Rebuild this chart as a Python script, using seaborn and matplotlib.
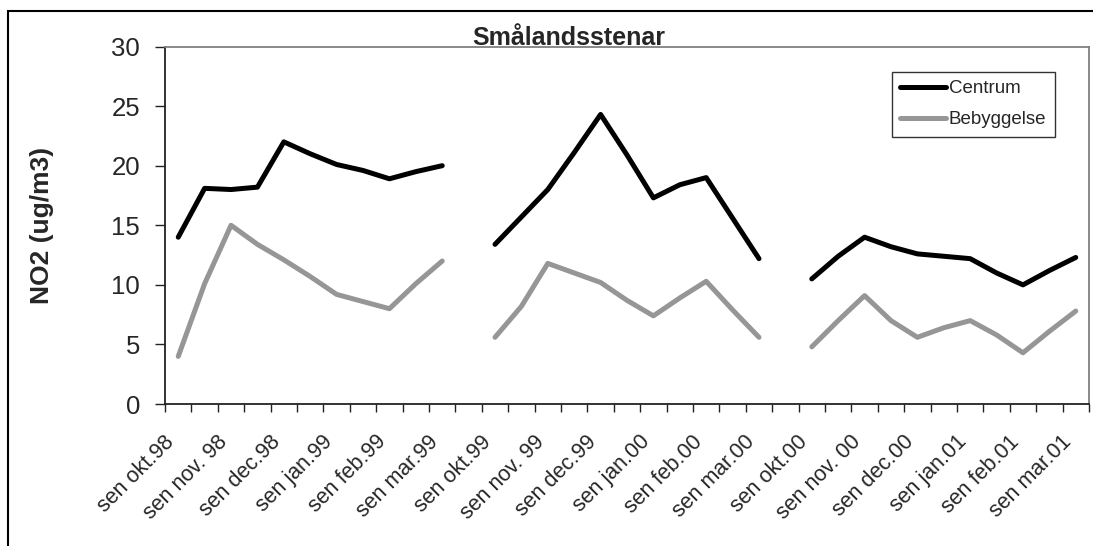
"""
plot.py -- NO2 winter measurements at Smålandsstenar, centre vs. residential area.

Run:
    python plot.py
"""

import matplotlib
matplotlib.use("Agg")
import matplotlib.pyplot as plt
import pandas as pd
import seaborn as sns
from matplotlib.patches import Rectangle
from matplotlib.ticker import FixedLocator, NullFormatter
from matplotlib.transforms import ScaledTranslation

# -- Data ----------------------------------------------------------------------

TITLE   = "Smålandsstenar"
Y_LABEL = "NO2 (ug/m3)"

# Half-month slots; every second slot carries a label, one empty slot between winters
TICK_LABELS = [
    "sen okt.98", "sen nov. 98", "sen dec.98", "sen jan.99", "sen feb.99", "sen mar.99",
    "sen okt.99", "sen nov. 99", "sen dec.99", "sen jan.00", "sen feb.00", "sen mar.00",
    "sen okt.00", "sen nov. 00", "sen dec.00", "sen jan.01", "sen feb.01", "sen mar.01",
]
N_SLOTS       = 35
SEASON_START  = [0, 12, 24]

SERIES = ["Centrum", "Bebyggelse"]

CENTRUM_98_99 = [14.0, 18.1, 18.0, 18.2, 22.0, 21.0, 20.1, 19.6, 18.9, 19.5, 20.0]
CENTRUM_99_00 = [13.4, 15.7, 18.0, 21.1, 24.3, 20.9, 17.3, 18.4, 19.0, 15.6, 12.2]
CENTRUM_00_01 = [10.5, 12.4, 14.0, 13.2, 12.6, 12.4, 12.2, 11.0, 10.0, 11.2, 12.3]

BEBYGG_98_99  = [4.0, 10.1, 15.0, 13.4, 12.1, 10.7, 9.2, 8.6, 8.0, 10.1, 12.0]
BEBYGG_99_00  = [5.6, 8.2, 11.8, 11.0, 10.2, 8.7, 7.4, 8.9, 10.3, 7.9, 5.6]
BEBYGG_00_01  = [4.8, 7.0, 9.1, 7.0, 5.6, 6.4, 7.0, 5.8, 4.3, 6.1, 7.8]

COLORS = {"Centrum": "#000000", "Bebyggelse": "#969696"}


def build_frame() -> pd.DataFrame:
    """Long-form table: one row per half-month reading."""
    seasons = {
        "Centrum":    [CENTRUM_98_99, CENTRUM_99_00, CENTRUM_00_01],
        "Bebyggelse": [BEBYGG_98_99, BEBYGG_99_00, BEBYGG_00_01],
    }
    rows = []
    for site in SERIES:
        for s, (start, vals) in enumerate(zip(SEASON_START, seasons[site])):
            for i, v in enumerate(vals):
                rows.append({"slot": start + i, "no2": v, "site": site, "season": s})
    return pd.DataFrame(rows)


# -- Plot ----------------------------------------------------------------------

def main() -> None:
    sns.set_theme(style="white")
    plt.rcParams["font.family"] = ["Liberation Sans", "DejaVu Sans"]

    df = build_frame()

    fig = plt.figure(figsize=(10.93, 5.46), dpi=100)
    ax = fig.add_axes([0.151, 0.260, 0.8453, 0.6548])

    sns.lineplot(
        data=df, x="slot", y="no2", hue="site", units="season", estimator=None,
        hue_order=SERIES, palette=COLORS, linewidth=3.6, ax=ax,
    )

    ax.set_xlim(-0.5, N_SLOTS - 0.5)
    ax.set_ylim(0, 30)
    ax.set_yticks(range(0, 31, 5))
    ax.tick_params(axis="y", labelsize=18.5, length=7, width=1, color="#222222",
                   pad=11, left=True, direction="out")

    # ticks sit on slot boundaries, labels on every second slot centre
    ax.xaxis.set_major_locator(FixedLocator([k - 0.5 for k in range(N_SLOTS + 1)]))
    ax.xaxis.set_major_formatter(NullFormatter())
    ax.set_xticks(range(0, N_SLOTS, 2), minor=True)
    ax.set_xticklabels(TICK_LABELS, minor=True, rotation=45, ha="right",
                       va="center", rotation_mode="anchor", fontsize=15.5)
    ax.tick_params(axis="x", which="major", length=6, width=1, color="#222222",
                   bottom=True, direction="out")
    ax.tick_params(axis="x", which="minor", length=0, pad=25, bottom=True)
    shift = ScaledTranslation(-7 / 100, 0, fig.dpi_scale_trans)
    for lab in ax.get_xticklabels(minor=True):
        lab.set_transform(lab.get_transform() + shift)

    ax.set_xlabel("")
    ax.set_ylabel(Y_LABEL, fontsize=19, fontweight="bold", va="center")
    ax.yaxis.set_label_coords(-0.133, 0.5)

    for side in ("left", "bottom"):
        ax.spines[side].set_color("#222222")
        ax.spines[side].set_linewidth(1.3)
    for side in ("top", "right"):
        ax.spines[side].set_color("#808080")
        ax.spines[side].set_linewidth(1.3)

    handles, labels = ax.get_legend_handles_labels()
    for h in handles:
        h.set_linewidth(3.6)
    leg = ax.legend(
        handles, labels, loc="upper left", bbox_to_anchor=(0.8158, 0.8687),
        bbox_transform=fig.transFigure, fontsize=13.5, frameon=True, fancybox=False,
        handlelength=2.45, handletextpad=0.15, labelspacing=0.75, borderpad=0.45,
        borderaxespad=0,
    )
    leg.get_frame().set_edgecolor("black")
    leg.get_frame().set_linewidth(1.0)

    fig.text(0.52, 0.930, TITLE, ha="center", va="center",
             fontsize=18, fontweight="bold")

    # chart-area border, cut off at right and bottom like the source
    fig.add_artist(Rectangle((8 / 1093, -0.1), 1.2, 1.0799, transform=fig.transFigure,
                             fill=False, edgecolor="black", linewidth=1.5))

    fig.savefig("out.png", dpi=100)


if __name__ == "__main__":
    main()
